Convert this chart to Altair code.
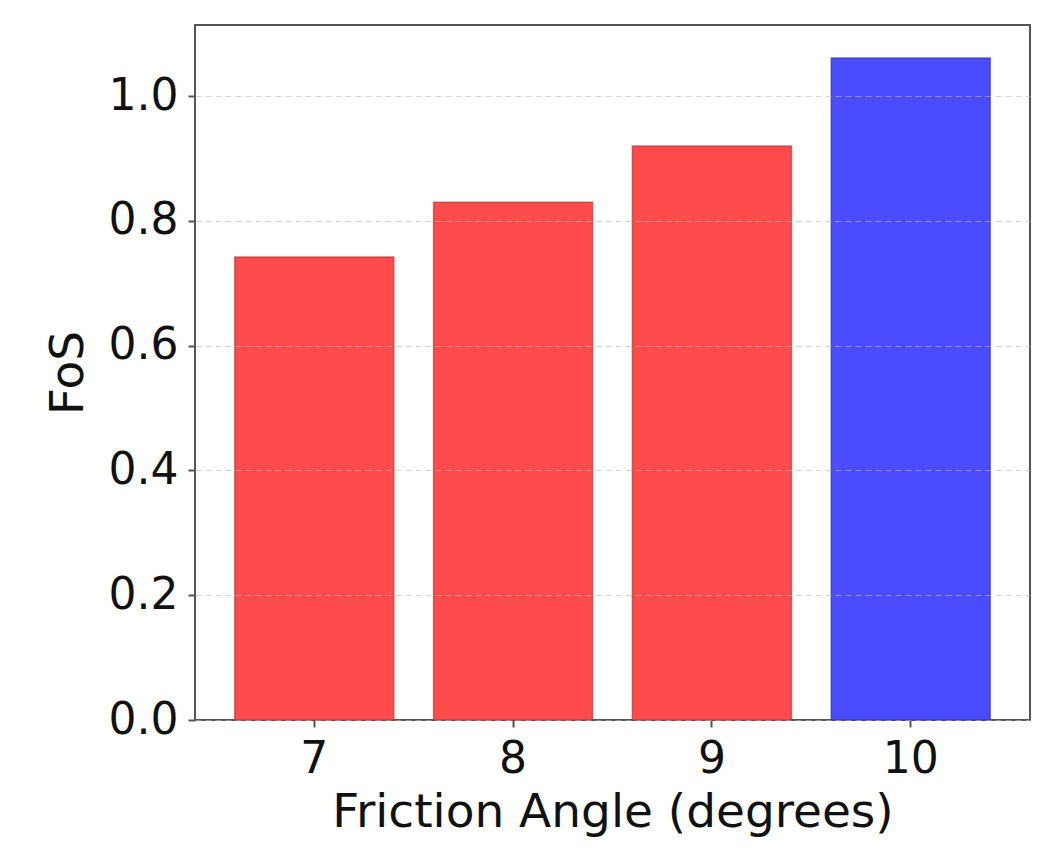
import altair as alt
import pandas as pd

friction_angle = ["7", "8", "9", "10"]
fos = [0.742, 0.830, 0.920, 1.061]

df = pd.DataFrame({"angle": friction_angle, "FoS": fos})

RED = "#ff4b4b"
BLUE = "#4b4bff"

bars = alt.Chart(df).mark_bar(strokeWidth=1.5, strokeOpacity=0.6).encode(
    x=alt.X(
        "angle:N",
        sort=friction_angle,
        title="Friction Angle (degrees)",
        scale=alt.Scale(paddingInner=0.2, paddingOuter=0.2),
        axis=alt.Axis(labelAngle=0, grid=False, labelPadding=10, titlePadding=8),
    ),
    y=alt.Y(
        "FoS:Q",
        title="FoS",
        scale=alt.Scale(domain=[0, 1.114], nice=False, zero=True),
        axis=alt.Axis(values=[0, 0.2, 0.4, 0.6, 0.8, 1.0], format=".1f",
                      grid=True, gridDash=[6, 4], gridColor="#bbbbbb",
                      gridOpacity=0.6, zindex=1, labelPadding=10, titlePadding=16),
    ),
    color=alt.condition(alt.datum.FoS >= 1, alt.value(BLUE), alt.value(RED)),
    stroke=alt.condition(alt.datum.FoS >= 1, alt.value("#2a2ab0"), alt.value("#b02a2a")),
)

chart = bars.properties(
    width=835,
    height=695,
    autosize=alt.AutoSizeParams(type="none"),
    padding={"left": 187, "top": 17, "right": 7, "bottom": 123},
).configure_view(
    stroke="#555555", strokeWidth=2, fill="white"
).configure_axis(
    labelFont="DejaVu Sans",
    titleFont="DejaVu Sans",
    labelFontSize=44,
    titleFontSize=47,
    labelColor="#111111",
    titleColor="#111111",
    titleFontWeight="normal",
    domain=False,
    tickColor="#555555",
    tickSize=7,
    tickWidth=2,
)

chart.save("out.html", embed_options={"renderer": "svg", "actions": False})
